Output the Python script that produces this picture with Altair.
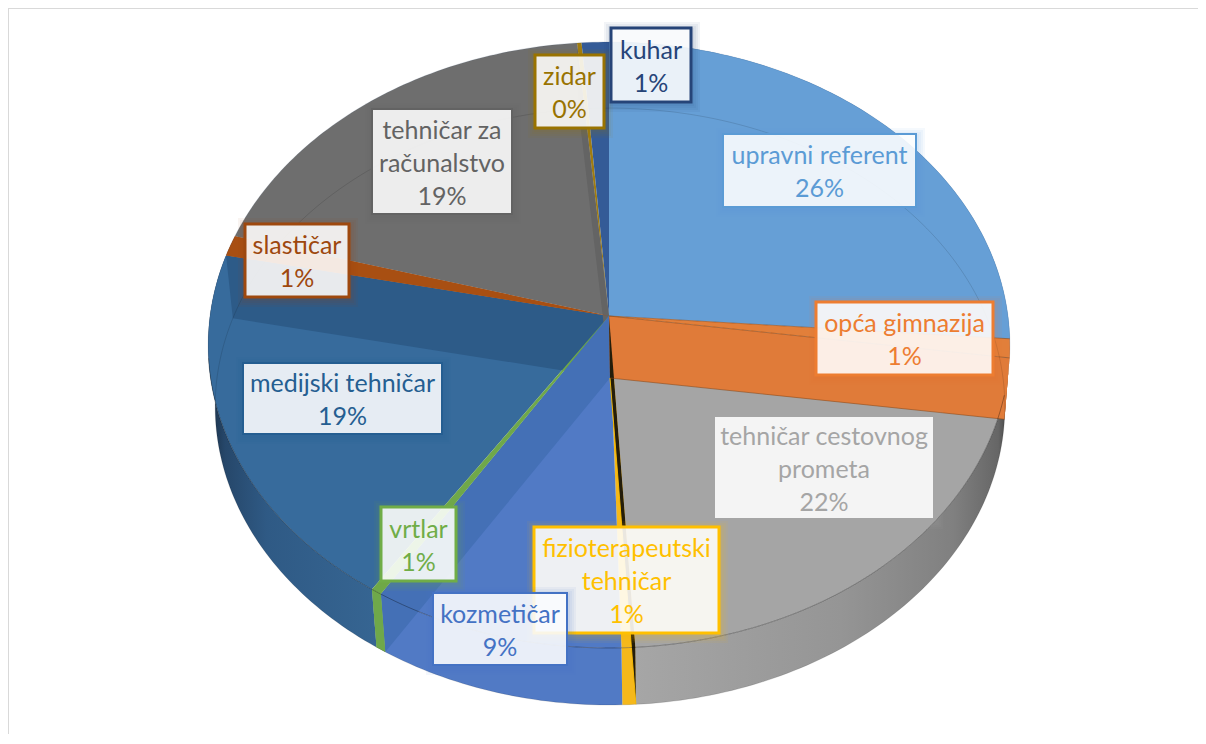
import math
import altair as alt

# ---- data ----
names = ["upravni referent", "opća gimnazija", "tehničar cestovnog prometa", "fizioterapeutski tehničar",
         "kozmetičar", "vrtlar", "medijski tehničar", "slastičar", "tehničar za računalstvo", "zidar", "kuhar"]
shares = [26.2, 1.0, 21.85, 0.5, 9.25, 0.4, 19.1, 1.1, 19.2, 0.2, 1.2]
percent_labels = ["26%", "1%", "22%", "1%", "9%", "1%", "19%", "1%", "19%", "0%", "1%"]
label_lines = [["upravni referent"], ["opća gimnazija"], ["tehničar cestovnog", "prometa"],
               ["fizioterapeutski", "tehničar"], ["kozmetičar"], ["vrtlar"], ["medijski tehničar"],
               ["slastičar"], ["tehničar za", "računalstvo"], ["zidar"], ["kuhar"]]
face_colors = ["#669fd6", "#e27f3a", "#a5a5a5", "#f5b81b", "#517ac5", "#6fa84a", "#376b9c",
               "#a84f12", "#6e6e6e", "#a07c10", "#345b97"]
label_colors = ["#5b9bd5", "#ed7d31", "#a5a5a5", "#ffc000", "#4472c4", "#70ad47", "#255e91",
                "#9e480e", "#636363", "#997300", "#264478"]

# ---- layout (page pixels) ----
W, H = 1190, 726
OX, OY = 8, 8
APEX = (609, 316)
APEX_LOW = (610, 378)
RX, RY, PERSP, DEPTH_K = 399, 300.2, 0.0957, 0.985
# x0, x1, y0, y1 of each label box, in the order of names
boxes = [(723, 916, 134, 207), (816, 993, 302, 375), (714, 934, 416, 519), (534, 719, 527, 633),
         (433, 567, 593, 665), (381, 456, 507, 581), (243, 442, 363, 434), (245, 349, 224, 297),
         (372, 512, 109, 214), (535, 604, 55, 128), (611, 691, 28, 102)]
draw_order = [0, 1, 2, 3, 4, 5, 6, 7, 8, 9, 10]
LINE = 33
TEXT_DY = 2
FONT = "Lato"
FONT_SIZE = 25

# ---- geometry derived from the shares ----
edges = [0.0]
for s in shares:
    edges.append(edges[-1] + s)
angles = [e * 3.6 for e in edges]


def rim(t):
    r = math.radians(t)
    w = 1 + PERSP * math.cos(r)
    return (APEX[0] + RX * math.sin(r) / w - OX, APEX[1] - RY * math.cos(r) / w - OY)


def rim_low(t):
    x, y = rim(t)
    return (APEX_LOW[0] - OX + DEPTH_K * (x + OX - APEX[0]), APEX_LOW[1] - OY + DEPTH_K * (y + OY - APEX[1]))


def sweep(t0, t1):
    n = max(2, int(abs(t1 - t0)) + 2)
    return [t0 + (t1 - t0) * i / (n - 1) for i in range(n)]


A = (APEX[0] - OX, APEX[1] - OY)
B = (APEX_LOW[0] - OX, APEX_LOW[1] - OY)


def poly(points, color):
    ring = [list(p) for p in points] + [list(points[0])]
    return {"type": "Feature", "properties": {"color": color},
            "geometry": {"type": "Polygon", "coordinates": [ring]}}


def line(points, color="#000000"):
    return {"type": "Feature", "properties": {"color": color},
            "geometry": {"type": "LineString", "coordinates": [list(p) for p in points]}}


def face(i):
    return poly([A] + [rim(t) for t in sweep(angles[i], angles[i + 1])], face_colors[i])


def wall(i, color=None):
    ts = sweep(angles[i], angles[i + 1])
    return poly([rim(t) for t in ts] + [rim_low(t) for t in reversed(ts)], color or face_colors[i])


def cut(t, color):
    return poly([A, rim(t), rim_low(t), B], color)


proj = alt.Projection(type="identity", scale=1, translate=[0, 0])


def shapes(features, **mark):
    return alt.Chart(alt.Data(values=features)).mark_geoshape(**mark).encode(
        fill=alt.Fill("properties.color:N", scale=None)).project(**proj.to_dict())


def strokes(features, color, width, opacity):
    return alt.Chart(alt.Data(values=features)).mark_geoshape(
        filled=False, fill="transparent", stroke=color, strokeWidth=width, strokeOpacity=opacity
    ).project(**proj.to_dict())


def gradient_wall(feature, stops):
    return alt.Chart(alt.Data(values=[feature])).mark_geoshape(
        fill=alt.Gradient(gradient="linear", x1=0, x2=1, y1=0, y2=0,
                          stops=[alt.GradientStop(offset=o, color=c) for o, c in stops])
    ).project(**proj.to_dict())


iUP, iOP, iCE, iFI, iKO, iVR, iME, iSL, iRA, iZI, iKU = range(11)

layers = []
# outer walls
layers.append(shapes([wall(iOP), wall(iFI), wall(iKO), wall(iVR), wall(iUP)]))
layers.append(gradient_wall(wall(iCE), [(0, "#a6a6a6"), (0.55, "#959595"), (0.85, "#808080"),
                                        (0.97, "#666666"), (1, "#3f3f3f")]))
layers.append(gradient_wall(wall(iME), [(0, "#1a2f45"), (0.1, "#26476a"), (0.35, "#2f5a85"), (1, "#366592")]))
# top faces
layers.append(shapes([face(i) for i in [iUP, iOP, iCE, iFI, iME, iSL, iRA, iZI, iKU]]))
# cut faces seen through the translucent slices
layers.append(shapes([cut(angles[iME + 1], "#2d5b88"), cut(angles[iRA + 1], "#646464")]))
layers.append(shapes([face(iSL)]))
layers.append(shapes([face(iKO), cut(angles[iKO + 1], "#4470b6"), face(iVR), wall(iVR)]))
# orange cut face, with the small bulge of the rim beside it
end_op = angles[iOP + 1]
layers.append(shapes([cut(end_op, "#e07b39"),
                      poly([rim(t) for t in sweep(end_op, end_op + 7)] + [rim_low(end_op)], "#e07b39"),
                      cut(angles[iCE + 1], "#241d0a")]))
layers.append(strokes([line([B, rim_low(angles[iCE + 1])])], "#ffc000", 1, 0.9))
layers.append(strokes([line([A, rim(end_op)]), line([rim_low(end_op), B]),
                       line([A, rim(angles[iOP])])], "#8a4513", 1, 0.55))
# rims
layers.append(strokes([line([rim_low(t) for t in sweep(0, 360)])], "#000000", 1, 0.12))
layers.append(strokes([line([rim(t) for t in sweep(end_op + 7, 262)])], "#000000", 1, 0.32))
layers.append(strokes([line([rim(t) for t in sweep(0, end_op)])], "#1f3b5c", 0.6, 0.25))
layers.append(strokes([line([rim(t) for t in sweep(262, 360)])], "#1f3b5c", 0.6, 0.25))

x_scale = alt.Scale(domain=[0, W], range=[0, W])
y_scale = alt.Scale(domain=[0, H], range=[0, H])
X = lambda f: alt.X(f, type="quantitative", scale=x_scale, axis=None)
Y = lambda f: alt.Y(f, type="quantitative", scale=y_scale, axis=None)

# frame lines of the reference
layers.append(alt.Chart(alt.Data(values=[{"a": 0}])).mark_rule(color="#d9d9d9", strokeWidth=2).encode(
    x=alt.value(0), x2=alt.value(W), y=alt.value(0)))
layers.append(alt.Chart(alt.Data(values=[{"a": 0}])).mark_rule(color="#d9d9d9", strokeWidth=2).encode(
    y=alt.value(0), y2=alt.value(H), x=alt.value(0)))

# labels
for i in draw_order:
    x0, x1, y0, y1 = boxes[i]
    x0, x1, y0, y1 = x0 - OX, x1 - OX, y0 - OY, y1 - OY
    glow = [{"x": x0 - g + 1, "x2": x1 + g + 1, "y": y0 - g + 2, "y2": y1 + g + 2} for g in (2, 4, 6, 8)]
    layers.append(alt.Chart(alt.Data(values=glow)).mark_rect(color=label_colors[i], opacity=0.06).encode(
        x=X("x"), x2="x2", y=Y("y"), y2="y2"))
    layers.append(alt.Chart(alt.Data(values=[{"x": x0, "x2": x1, "y": y0, "y2": y1}])).mark_rect(
        fill="#ffffff", fillOpacity=0.88, stroke=label_colors[i], strokeWidth=3 if i not in (iUP, iCE, iKO, iME, iRA) else 2
    ).encode(x=X("x"), x2="x2", y=Y("y"), y2="y2"))
    rows = label_lines[i] + [percent_labels[i]]
    cx, cy = (x0 + x1) / 2, (y0 + y1) / 2
    text_rows = [{"x": cx, "y": cy + TEXT_DY + (k - (len(rows) - 1) / 2) * LINE, "t": r} for k, r in enumerate(rows)]
    layers.append(alt.Chart(alt.Data(values=text_rows)).mark_text(
        font=FONT, fontSize=FONT_SIZE, color=label_colors[i], align="center", baseline="middle"
    ).encode(x=X("x"), y=Y("y"), text="t:N"))

chart = alt.layer(*layers).properties(
    width=W, height=H, padding=0, autosize=alt.AutoSizeParams(type="none"),
    background="#ffffff"
).configure_view(stroke=None)

chart.save("out.html", embed_options={"renderer": "svg", "actions": False})
